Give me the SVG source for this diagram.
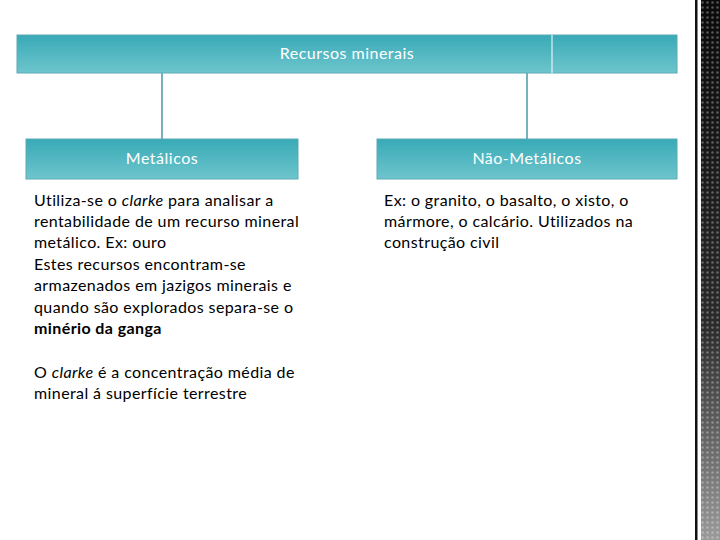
<svg xmlns="http://www.w3.org/2000/svg" width="720" height="540" viewBox="0 0 720 540">
<defs>
<linearGradient id="teal" x1="0" y1="0" x2="0" y2="1">
<stop offset="0" stop-color="#38aab6"/>
<stop offset="1" stop-color="#6ec5cd"/>
</linearGradient>
<linearGradient id="band" x1="0" y1="0" x2="0" y2="1">
<stop offset="0" stop-color="#0a0a0a"/>
<stop offset="0.6" stop-color="#2a2a2a"/>
<stop offset="1" stop-color="#9a9a9a"/>
</linearGradient>
<pattern id="dots" width="5" height="5" patternUnits="userSpaceOnUse">
<circle cx="2.5" cy="2.5" r="1.3" fill="#ffffff" fill-opacity="0.3"/>
</pattern>
<style>
.box{fill:url(#teal);stroke:#5aaab4;stroke-width:1}
.hdr{font-family:"Lato","Open Sans",sans-serif;font-size:16px;letter-spacing:0.5px;fill:#ffffff;text-anchor:middle}
.body{font-family:"Lato","Noto Sans",sans-serif;font-size:16px;letter-spacing:0.4px;fill:#000000}
.conn{stroke:#4a98a4;stroke-width:1.5;fill:none}
</style>
</defs>
<rect width="720" height="540" fill="#ffffff"/>
<g id="band-deco">
<rect x="695" y="0" width="2.5" height="540" fill="#111111"/>
<rect x="701" y="0" width="19" height="540" fill="url(#band)"/>
<rect x="701" y="0" width="19" height="540" fill="url(#dots)"/>
</g>
<g id="connectors">
<line class="conn" x1="162" y1="73" x2="162" y2="139"/>
<line class="conn" x1="527" y1="73" x2="527" y2="139"/>
</g>
<g id="root">
<rect class="box" x="17" y="35" width="660" height="38"/>
<line x1="552" y1="35" x2="552" y2="73" stroke="#ffffff" stroke-width="1"/>
<text class="hdr" x="347" y="59">Recursos minerais</text>
</g>
<g id="metalicos">
<rect class="box" x="26" y="139" width="272" height="40"/>
<text class="hdr" x="162" y="164">Metálicos</text>
</g>
<g id="nao-metalicos">
<rect class="box" x="377" y="139" width="300" height="40"/>
<text class="hdr" x="527" y="164">Não-Metálicos</text>
</g>
<g id="metalicos-text">
<text class="body" x="34" y="206">Utiliza-se o <tspan font-style="italic">clarke</tspan> para analisar a</text>
<text class="body" x="34" y="227">rentabilidade de um recurso mineral</text>
<text class="body" x="34" y="248">metálico. Ex: ouro</text>
<text class="body" x="34" y="270">Estes recursos encontram-se</text>
<text class="body" x="34" y="291">armazenados em jazigos minerais e</text>
<text class="body" x="34" y="313">quando são explorados separa-se o</text>
<text class="body" x="34" y="334" font-weight="bold">minério da ganga</text>
<text class="body" x="34" y="378">O <tspan font-style="italic">clarke</tspan> é a concentração média de</text>
<text class="body" x="34" y="399">mineral á superfície terrestre</text>
</g>
<g id="nao-metalicos-text">
<text class="body" x="384" y="206">Ex: o granito, o basalto, o xisto, o</text>
<text class="body" x="384" y="227">mármore, o calcário. Utilizados na</text>
<text class="body" x="384" y="248">construção civil</text>
</g>
</svg>
